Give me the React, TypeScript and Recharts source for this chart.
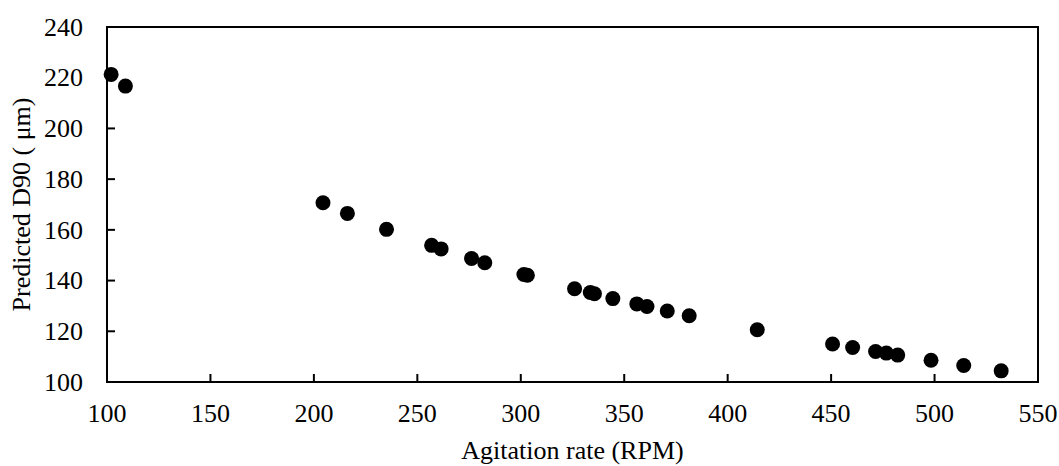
import React from "react";
import { ReferenceArea, Scatter, ScatterChart, XAxis, YAxis } from "recharts";

// agitation rate (RPM) vs predicted D90 (um)
const rpm = [
  102, 108.9, 204.4, 216.2, 235.1, 256.9, 261.5, 276.2, 282.6, 301.5, 303.2,
  326, 333.6, 335.6, 344.5, 356.1, 361, 370.8, 381.4, 414.3, 450.7, 460.4,
  471.5, 476.7, 482.2, 498.3, 514.1, 532.2,
];
const d90 = [
  221.3, 216.7, 170.7, 166.5, 160.2, 153.9, 152.5, 148.7, 147, 142.4, 142.1,
  136.8, 135.3, 134.8, 132.9, 130.8, 129.8, 128, 126.1, 120.6, 115, 113.6,
  112, 111.4, 110.6, 108.6, 106.5, 104.4,
];
const xTicks = [100, 150, 200, 250, 300, 350, 400, 450, 500, 550];
const yTicks = [100, 120, 140, 160, 180, 200, 220, 240];

const points = rpm.map((x, i) => ({ x, y: d90[i] }));

const FONT = '"Liberation Serif", "Times New Roman", serif';
const FS = 26;

function XTick(props: any) {
  const { x, y, payload } = props;
  return (
    <g>
      <line x1={x} x2={x} y1={y} y2={y - 8} stroke="#000" strokeWidth={2} />
      <text x={x} y={y + 39.5} textAnchor="middle" fontFamily={FONT} fontSize={FS} fill="#000">
        {payload.value}
      </text>
    </g>
  );
}

function YTick(props: any) {
  const { x, y, payload } = props;
  return (
    <g>
      <line x1={x} x2={x + 8} y1={y} y2={y} stroke="#000" strokeWidth={2} />
      <text x={x - 24} y={y + 8.7} textAnchor="end" fontFamily={FONT} fontSize={FS} fill="#000">
        {payload.value}
      </text>
    </g>
  );
}

function YLabel(props: any) {
  const vb = props.viewBox;
  const cx = vb.x + 29.5;
  const cy = vb.y + vb.height / 2;
  return (
    <text
      x={cx}
      y={cy}
      transform={`rotate(-90, ${cx}, ${cy})`}
      textAnchor="middle"
      fontFamily={FONT}
      fontSize={FS}
      fill="#000"
    >
      Predicted D90 ( μm)
    </text>
  );
}

function Dot(props: any) {
  return <circle cx={props.cx} cy={props.cy} r={7.5} fill="#000" />;
}

export default function App() {
  return (
    <div style={{ position: "absolute", left: 0, top: 0, width: 1059, height: 466, background: "#fff" }}>
      <ScatterChart width={1059} height={466} margin={{ top: 27, right: 21, bottom: 0, left: 0 }}>
        <XAxis
          type="number"
          dataKey="x"
          domain={[100, 550]}
          ticks={xTicks}
          height={84}
          axisLine={false}
          tickLine={false}
          tickSize={0}
          tickMargin={0}
          tick={<XTick />}
          interval={0}
          label={{
            value: "Agitation rate (RPM)",
            position: "insideBottom",
            offset: 7,
            fill: "#000",
            fontSize: FS,
            fontFamily: FONT,
          }}
        />
        <YAxis
          type="number"
          dataKey="y"
          domain={[100, 240]}
          ticks={yTicks}
          width={107}
          axisLine={false}
          tickLine={false}
          tickSize={0}
          tickMargin={0}
          tick={<YTick />}
          interval={0}
          label={(p: any) => <YLabel {...p} />}
        />
        <ReferenceArea x1={100} x2={550} y1={100} y2={240} fill="none" stroke="#000" strokeWidth={2} />
        <Scatter data={points} shape={<Dot />} isAnimationActive={false} />
      </ScatterChart>
    </div>
  );
}
